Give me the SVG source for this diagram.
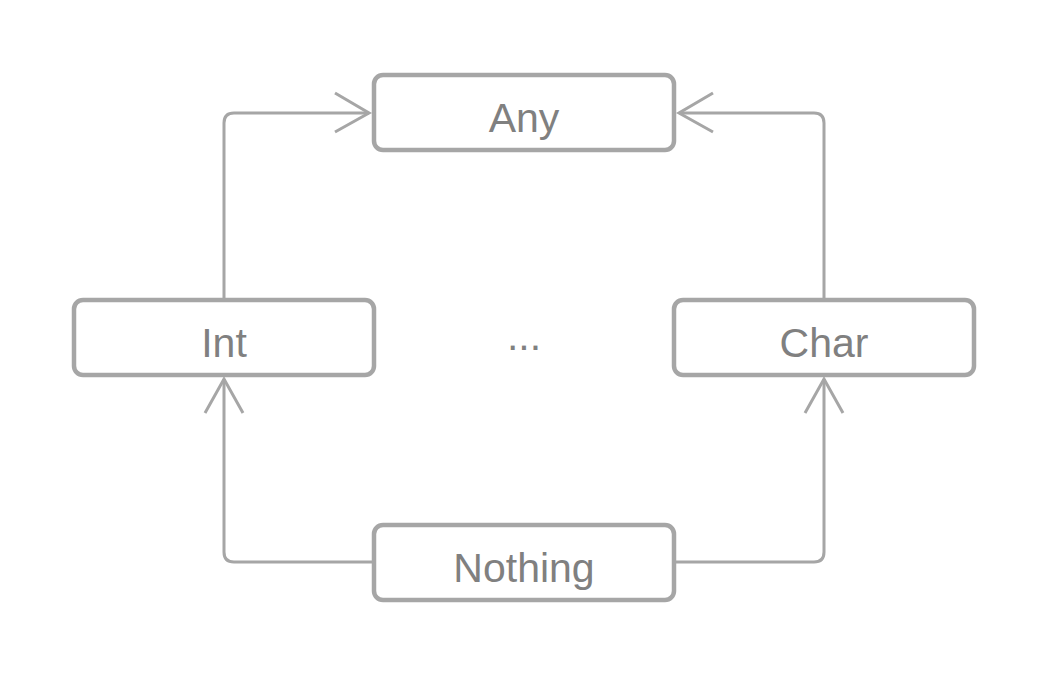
<svg xmlns="http://www.w3.org/2000/svg" width="1050" height="675" viewBox="0 0 1050 675">
<style>
.box{fill:#fff;stroke:#a6a6a6;stroke-width:4.5}
.lbl{font-family:"Liberation Sans",Arial,sans-serif;font-size:41px;fill:#808080;text-anchor:middle}
.con{fill:none;stroke:#a6a6a6;stroke-width:3}
</style>
<rect width="1050" height="675" fill="#fff"/>
<g id="connectors">
<path class="con" d="M224,298 V123 Q224,113 234,113 H369"/>
<path class="con" d="M335,93 L369,113 L335,132"/>
<path class="con" d="M824,298 V123 Q824,113 814,113 H679"/>
<path class="con" d="M713,93 L679,113 L713,132"/>
<path class="con" d="M372,562 H234 Q224,562 224,552 V379"/>
<path class="con" d="M205,413 L224,379 L243,413"/>
<path class="con" d="M676,562 H814 Q824,562 824,552 V379"/>
<path class="con" d="M805,413 L824,379 L843,413"/>
</g>
<g id="any"><rect class="box" x="374" y="75" width="300" height="75" rx="9"/><text class="lbl" x="524" y="132">Any</text></g>
<g id="int"><rect class="box" x="74" y="300" width="300" height="75" rx="9"/><text class="lbl" x="224" y="357">Int</text></g>
<g id="char"><rect class="box" x="674" y="300" width="300" height="75" rx="9"/><text class="lbl" x="824" y="357">Char</text></g>
<g id="nothing"><rect class="box" x="374" y="525" width="300" height="75" rx="9"/><text class="lbl" x="524" y="582">Nothing</text></g>
<g id="ellipsis"><text class="lbl" x="524" y="350">...</text></g>
</svg>
